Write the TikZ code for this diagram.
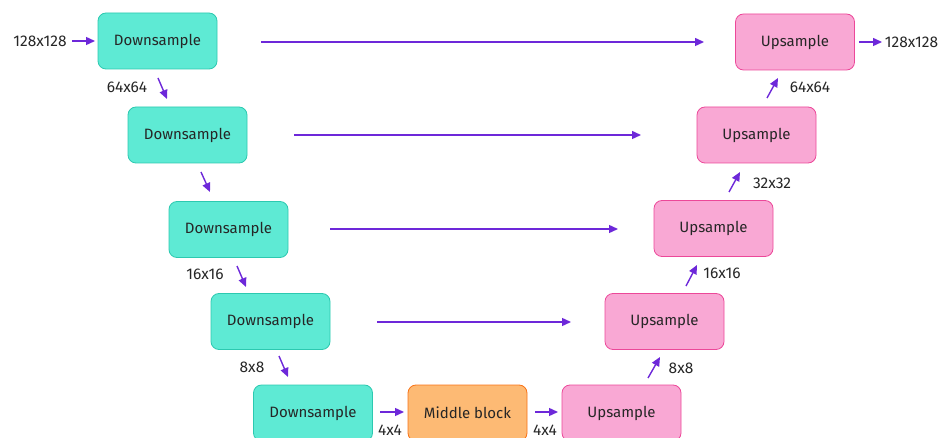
\documentclass[tikz,border=0pt]{standalone}
\usepackage{fontspec}
\setmainfont{Fira Sans}
\usetikzlibrary{arrows.meta}
\definecolor{tealfill}{HTML}{5EEAD4}
\definecolor{tealdraw}{HTML}{2CC9B0}
\definecolor{pinkfill}{HTML}{F9A8D4}
\definecolor{pinkdraw}{HTML}{EC4899}
\definecolor{orfill}{HTML}{FDBA74}
\definecolor{ordraw}{HTML}{F97316}
\definecolor{arr}{HTML}{6D28D9}
\begin{document}
\begin{tikzpicture}[x=1pt,y=-1pt,
  blk/.style={rounded corners=8pt,minimum width=119pt,minimum height=56pt,inner sep=0pt,font=\fontsize{15}{17}\selectfont,line width=0.8pt,text=black!85},
  down/.style={blk,fill=tealfill,draw=tealdraw},
  up/.style={blk,fill=pinkfill,draw=pinkdraw},
  mid/.style={blk,fill=orfill,draw=ordraw},
  lbl/.style={font=\fontsize{15.5}{17}\selectfont,inner sep=0pt,text=black!85},
  con/.style={draw=arr,line width=1.4pt,-{Triangle[length=9pt,width=8pt]}}]
\useasboundingbox (0,0) rectangle (939,438);
\begin{scope}
\clip (0,0) rectangle (939,438);
\node[down] (d1) at (157.5,41) {Downsample};
\node[down] (d2) at (187.5,135) {Downsample};
\node[down] (d3) at (228.5,229.5) {Downsample};
\node[down] (d4) at (270.5,321.5) {Downsample};
\node[down] (d5) at (313,413) {Downsample};
\node[mid] (m) at (467.5,413) {Middle block};
\node[up] (u5) at (621.5,413) {Upsample};
\node[up] (u4) at (664.5,321.5) {Upsample};
\node[up] (u3) at (713.5,228.5) {Upsample};
\node[up] (u2) at (756.5,135) {Upsample};
\node[up] (u1) at (795,42) {Upsample};
\end{scope}
% labels
\node[lbl] (in) at (40,41) {128x128};
\node[lbl] (out) at (911.5,42) {128x128};
\node[lbl] (l1) at (127,87) {64x64};
\node[lbl] (l3) at (205,274) {16x16};
\node[lbl] (l4) at (252,367) {8x8};
\node[lbl] (l5) at (390,430) {4x4};
\node[lbl] (l6) at (545,430) {4x4};
\node[lbl] (r5) at (681,368) {8x8};
\node[lbl] (r4) at (722,273) {16x16};
\node[lbl] (r3) at (772,183) {32x32};
\node[lbl] (r2) at (810,87) {64x64};
% coordinates
\coordinate (a0s) at (72,41); \coordinate (a0e) at (95,41);
\coordinate (b0s) at (859,42); \coordinate (b0e) at (882,42);
\coordinate (s1s) at (261,42); \coordinate (s1e) at (704,42);
\coordinate (s2s) at (294,135); \coordinate (s2e) at (641,135);
\coordinate (s3s) at (330,229); \coordinate (s3e) at (618,229);
\coordinate (s4s) at (377,322); \coordinate (s4e) at (571,322);
\coordinate (g1s) at (158,78); \coordinate (g1e) at (167,99);
\coordinate (g2s) at (201,172); \coordinate (g2e) at (210,192);
\coordinate (g3s) at (237,266); \coordinate (g3e) at (246,287);
\coordinate (g4s) at (279,356); \coordinate (g4e) at (288,377);
\coordinate (m1s) at (380,412); \coordinate (m1e) at (404,412);
\coordinate (m2s) at (535,412); \coordinate (m2e) at (558,412);
\coordinate (h1s) at (648,378); \coordinate (h1e) at (660,357);
\coordinate (h2s) at (686,286); \coordinate (h2e) at (697,265);
\coordinate (h3s) at (729,192); \coordinate (h3e) at (740,172);
\coordinate (h4s) at (767,98); \coordinate (h4e) at (778,78);
\foreach \a in {a0,b0,s1,s2,s3,s4,g1,g2,g3,g4,m1,m2,h1,h2,h3,h4}
  \draw[con] (\a s) -- (\a e);
\end{tikzpicture}
\end{document}
